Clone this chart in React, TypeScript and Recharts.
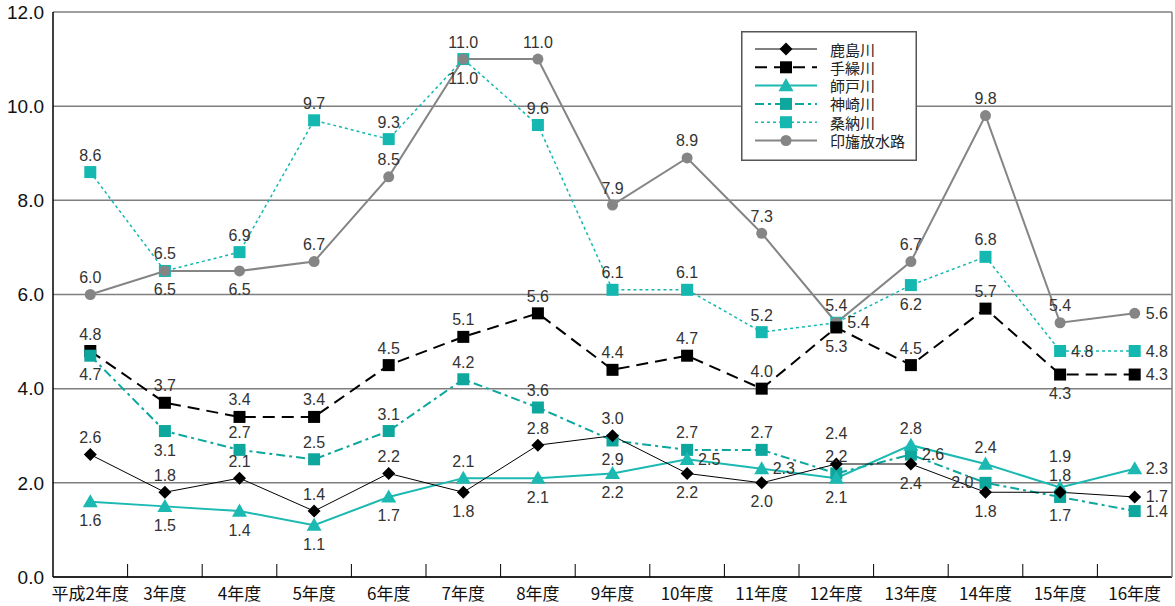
import { LineChart, Line, XAxis, YAxis, CartesianGrid, LabelList } from "recharts";

// ─── Data ─────────────────────────────────────────────────────────────────────

const YEARS = [
  "平成2年度", "3年度", "4年度", "5年度", "6年度", "7年度", "8年度", "9年度",
  "10年度", "11年度", "12年度", "13年度", "14年度", "15年度", "16年度",
];

const KASHIMA = [2.6, 1.8, 2.1, 1.4, 2.2, 1.8, 2.8, 3.0, 2.2, 2.0, 2.4, 2.4, 1.8, 1.8, 1.7];
const TAGURI = [4.8, 3.7, 3.4, 3.4, 4.5, 5.1, 5.6, 4.4, 4.7, 4.0, 5.3, 4.5, 5.7, 4.3, 4.3];
const MORODO = [1.6, 1.5, 1.4, 1.1, 1.7, 2.1, 2.1, 2.2, 2.5, 2.3, 2.1, 2.8, 2.4, 1.9, 2.3];
const KANZAKI = [4.7, 3.1, 2.7, 2.5, 3.1, 4.2, 3.6, 2.9, 2.7, 2.7, 2.2, 2.6, 2.0, 1.7, 1.4];
const KANNO = [8.6, 6.5, 6.9, 9.7, 9.3, 11.0, 9.6, 6.1, 6.1, 5.2, 5.4, 6.2, 6.8, 4.8, 4.8];
const INBA = [6.0, 6.5, 6.5, 6.7, 8.5, 11.0, 11.0, 7.9, 8.9, 7.3, 5.4, 6.7, 9.8, 5.4, 5.6];

const Y_TICKS = [0, 2, 4, 6, 8, 10, 12];

// where each value label sits relative to its point
const KASHIMA_POS = ["T", "T", "T", "T", "T", "B", "T", "T", "B", "B", "TT", "B", "B", "T", "R"];
const TAGURI_POS = ["T", "T", "T", "T", "T", "T", "T", "T", "T", "T", "B", "T", "T", "B", "R"];
const MORODO_POS = ["B", "B", "B", "B", "B", "T", "B", "B", "R", "R", "B", "T", "T", "TT", "R"];
const KANZAKI_POS = ["B", "B", "T", "T", "T", "T", "T", "B", "T", "T", "T", "R", "L", "B", "R"];
const KANNO_POS = ["T", "T", "T", "T", "T", "T", "T", "T", "T", "T", "T", "B", "T", "R", "R"];
const INBA_POS = ["T", "B", "B", "T", "T", "B", "T", "T", "T", "T", "R", "T", "T", "T", "R"];

// ─── Config ───────────────────────────────────────────────────────────────────

const FONT = "'Liberation Sans', Arial, 'Noto Sans CJK JP', sans-serif";
const JP_FONT = "'Noto Sans CJK JP', 'Liberation Sans', sans-serif";

const CHART_W = 1175;
const CHART_H = 606;
const PLOT_LEFT = 53;
const PLOT_RIGHT = 3;
const HALF_BAND = (CHART_W - PLOT_LEFT - PLOT_RIGHT) / YEARS.length / 2;

type Marker = "diamond" | "square" | "triangle" | "circle";

interface SeriesDef {
  key: string;
  name: string;
  values: number[];
  pos: string[];
  color: string;
  width: number;
  dash?: string;
  marker: Marker;
  markerColor: string;
}

const SERIES: SeriesDef[] = [
  { key: "kanno", name: "桑納川", values: KANNO, pos: KANNO_POS, color: "#14b8b0", width: 1.5, dash: "3 3", marker: "square", markerColor: "#14b8b0" },
  { key: "inba", name: "印旛放水路", values: INBA, pos: INBA_POS, color: "#858585", width: 2, marker: "circle", markerColor: "#858585" },
  { key: "taguri", name: "手繰川", values: TAGURI, pos: TAGURI_POS, color: "#000000", width: 2, dash: "12 7", marker: "square", markerColor: "#000000" },
  { key: "kanzaki", name: "神崎川", values: KANZAKI, pos: KANZAKI_POS, color: "#0ea79e", width: 2, dash: "9 4 3 4", marker: "square", markerColor: "#0ea79e" },
  { key: "morodo", name: "師戸川", values: MORODO, pos: MORODO_POS, color: "#1bb9b1", width: 2, marker: "triangle", markerColor: "#1bb9b1" },
  { key: "kashima", name: "鹿島川", values: KASHIMA, pos: KASHIMA_POS, color: "#000000", width: 1, marker: "diamond", markerColor: "#000000" },
];

const LEGEND_ORDER = ["kashima", "taguri", "morodo", "kanzaki", "kanno", "inba"];

const data = YEARS.map((year, i) => {
  const row: Record<string, string | number> = { year };
  SERIES.forEach((s) => {
    row[s.key] = s.values[i];
  });
  return row;
});

// ─── Markers & labels ─────────────────────────────────────────────────────────

function MarkerShape({ type, x, y, color }: { type: Marker; x: number; y: number; color: string }) {
  if (type === "diamond") {
    const r = 6.5;
    return <polygon points={`${x},${y - r} ${x + r},${y} ${x},${y + r} ${x - r},${y}`} fill={color} />;
  }
  if (type === "square") {
    const r = 6;
    return <rect x={x - r} y={y - r} width={r * 2} height={r * 2} fill={color} />;
  }
  if (type === "triangle") {
    const r = 7.5;
    return <polygon points={`${x},${y - r} ${x + r},${y + r * 0.75} ${x - r},${y + r * 0.75}`} fill={color} />;
  }
  return <circle cx={x} cy={y} r={5.5} fill={color} />;
}

function makeDot(s: SeriesDef) {
  return (props: any) => {
    const { cx, cy, index } = props;
    if (cx == null || cy == null) return <g key={index} />;
    return (
      <g key={`${s.key}-${index}`}>
        <MarkerShape type={s.marker} x={cx} y={cy} color={s.markerColor} />
      </g>
    );
  };
}

function makeLabel(s: SeriesDef) {
  return (props: any) => {
    const { x, y, value, index } = props;
    const p = s.pos[index] ?? "T";
    let tx = x;
    let ty = y;
    let anchor: "start" | "middle" | "end" = "middle";
    if (p === "T") ty = y - 17;
    else if (p === "TT") ty = y - 31;
    else if (p === "B") ty = y + 19;
    else if (p === "R") {
      tx = x + 11;
      anchor = "start";
    } else if (p === "L") {
      tx = x - 12;
      anchor = "end";
    }
    return (
      <text
        key={`${s.key}-l-${index}`}
        x={tx}
        y={ty}
        textAnchor={anchor}
        dominantBaseline="central"
        style={{ fontSize: 16, fill: "#333333", fontFamily: FONT }}
      >
        {Number(value).toFixed(1)}
      </text>
    );
  };
}

// category label plus the short inward tick mark at the left edge of its band
function YearTick(props: any) {
  const { x, y, payload, index } = props;
  return (
    <g>
      {index > 0 && (
        <line x1={x - HALF_BAND} x2={x - HALF_BAND} y1={y - 13} y2={y} stroke="#000000" strokeWidth={1} />
      )}
      <text
        x={x}
        y={y + 15}
        textAnchor="middle"
        dominantBaseline="central"
        style={{ fontSize: 17, fill: "#111111", fontFamily: JP_FONT }}
      >
        {payload.value}
      </text>
    </g>
  );
}

// ─── Legend ───────────────────────────────────────────────────────────────────

function ChartLegend() {
  const rows = LEGEND_ORDER.map((k) => SERIES.find((s) => s.key === k)!);
  return (
    <svg
      width={176}
      height={130}
      style={{ position: "absolute", left: 741, top: 31 }}
    >
      <rect x={0.75} y={0.75} width={174.5} height={128.5} fill="#ffffff" stroke="#555555" strokeWidth={1.5} />
      {rows.map((s, i) => {
        const y = 18 + i * 18.3;
        return (
          <g key={s.key}>
            <line x1={14} x2={76} y1={y} y2={y} stroke={s.color} strokeWidth={s.width} strokeDasharray={s.dash} />
            <MarkerShape type={s.marker} x={45} y={y} color={s.markerColor} />
            <text
              x={89}
              y={y}
              dominantBaseline="central"
              style={{ fontSize: 15, fill: "#222222", fontFamily: JP_FONT }}
            >
              {s.name}
            </text>
          </g>
        );
      })}
    </svg>
  );
}

// ─── Component ────────────────────────────────────────────────────────────────

export default function App() {
  return (
    <div style={{ position: "absolute", left: 0, top: 0, width: CHART_W, height: CHART_H, background: "#ffffff" }}>
      <LineChart
        width={CHART_W}
        height={CHART_H}
        data={data}
        margin={{ top: 12, right: PLOT_RIGHT, left: 0, bottom: 0 }}
      >
        <CartesianGrid vertical={false} stroke="#7f7f7f" strokeWidth={1.5} />
        <XAxis
          dataKey="year"
          height={29}
          interval={0}
          padding={{ left: HALF_BAND, right: HALF_BAND }}
          tickLine={false}
          tickSize={0}
          tickMargin={0}
          axisLine={{ stroke: "#000000", strokeWidth: 1.5 }}
          tick={<YearTick />}
        />
        <YAxis
          width={PLOT_LEFT}
          domain={[0, 12]}
          ticks={Y_TICKS}
          interval={0}
          tickFormatter={(v: number) => v.toFixed(1)}
          tickLine={false}
          axisLine={{ stroke: "#000000", strokeWidth: 1.5 }}
          tickMargin={3}
          tick={{ fontSize: 19, fill: "#111111", fontFamily: FONT }}
        />
        <YAxis
          yAxisId="right"
          orientation="right"
          mirror
          tick={false}
          tickLine={false}
          axisLine={{ stroke: "#7f7f7f", strokeWidth: 1.5 }}
        />
        {SERIES.map((s) => (
          <Line
            key={s.key}
            dataKey={s.key}
            name={s.name}
            type="linear"
            stroke={s.color}
            strokeWidth={s.width}
            strokeDasharray={s.dash}
            dot={makeDot(s)}
            activeDot={false}
            isAnimationActive={false}
          >
            <LabelList dataKey={s.key} content={makeLabel(s)} />
          </Line>
        ))}
      </LineChart>
      <ChartLegend />
    </div>
  );
}
